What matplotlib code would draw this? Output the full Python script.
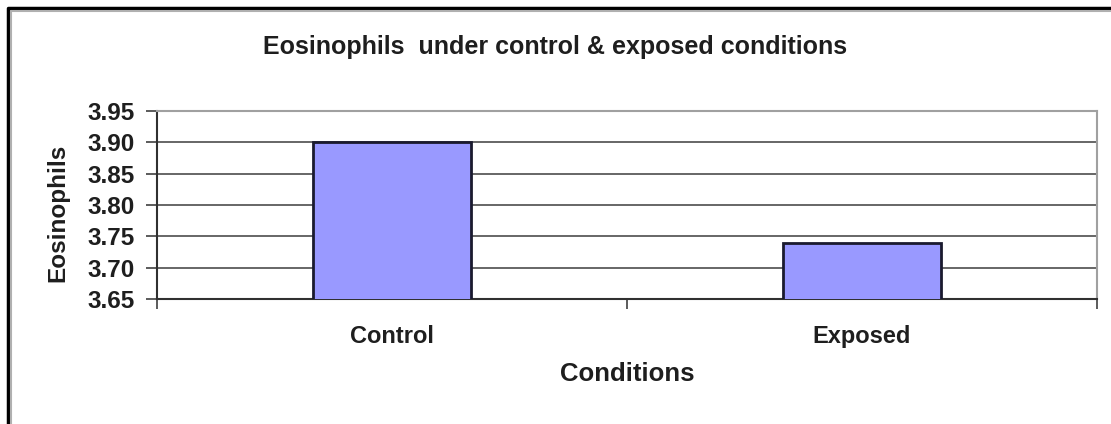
import matplotlib
matplotlib.use("Agg")
import matplotlib.pyplot as plt
from matplotlib.lines import Line2D

conditions = ['Control', 'Exposed']
eosinophils = [3.90, 3.74]
y_ticks = [3.65, 3.70, 3.75, 3.80, 3.85, 3.90, 3.95]

plt.rcParams['font.family'] = ['Liberation Sans', 'DejaVu Sans']
plt.rcParams['font.weight'] = 'bold'

fig = plt.figure(figsize=(11.11, 4.24), dpi=100)
ax = fig.add_axes([157 / 1111, 1 - 299 / 424, 940 / 1111, 188 / 424])

x = range(len(conditions))
ax.bar(x, eosinophils, width=0.336, color='#9999FF', edgecolor='#1a1a2e',
       linewidth=2, zorder=3)

ax.set_xlim(-0.5, 1.5)
ax.set_ylim(y_ticks[0], y_ticks[-1])
ax.set_yticks(y_ticks)
ax.set_yticklabels([f'{v:.2f}' for v in y_ticks])
ax.set_xticks(list(x))
ax.set_xticklabels(conditions)
ax.set_xticks([-0.5, 0.5, 1.5], minor=True)

ax.tick_params(axis='x', which='major', length=0, pad=19, labelsize=17)
ax.tick_params(axis='x', which='minor', length=7, width=1.2, color='#404040', direction='out')
ax.tick_params(axis='y', length=8, width=1.2, color='#404040', pad=8, labelsize=17.5,
               labelcolor='#1e1e1e')
ax.tick_params(axis='x', labelcolor='#1e1e1e')

# gridlines
ax.yaxis.grid(True, color='#5a5a5a', linewidth=1.3, zorder=1)
ax.set_axisbelow(True)

for side in ['left', 'bottom']:
    ax.spines[side].set_color('#303030')
    ax.spines[side].set_linewidth(1.5)
for side in ['top', 'right']:
    ax.spines[side].set_color('#a0a0a0')
    ax.spines[side].set_linewidth(1.5)

ax.set_xlabel('Conditions', fontsize=18.5, fontweight='bold', color='#1e1e1e')
ax.xaxis.set_label_coords(0.5, -0.399)
ax.xaxis.label.set_va('center')
ax.set_ylabel('Eosinophils', fontsize=17.5, fontweight='bold', color='#1e1e1e')
ax.yaxis.set_label_coords(-0.105, 0.46)
ax.yaxis.label.set_va('center')

fig.text(0.4995, 1 - 47 / 424, 'Eosinophils  under control & exposed conditions',
         ha='center', va='center', fontsize=18, fontweight='bold', color='#1e1e1e')

# outer chart border (only top and left are inside the image)
fig.add_artist(Line2D([8 / 1111, 8 / 1111, 1.0], [0.0, 1 - 8 / 424, 1 - 8 / 424],
                      transform=fig.transFigure, color='black', linewidth=2.5))
fig.add_artist(Line2D([11 / 1111, 11 / 1111, 1.0], [0.0, 1 - 11 / 424, 1 - 11 / 424],
                      transform=fig.transFigure, color='#b0b0b0', linewidth=1.5))

fig.savefig('out.png', dpi=100)
